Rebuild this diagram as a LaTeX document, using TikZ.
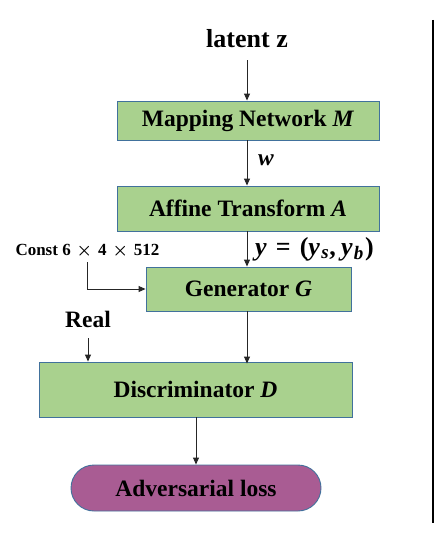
\documentclass[tikz,border=0pt]{standalone}
\usepackage{fontspec}
\setmainfont{Liberation Serif}
\usetikzlibrary{arrows.meta}
\definecolor{boxgreen}{HTML}{A9D18E}
\definecolor{boxblue}{HTML}{41719C}
\definecolor{losspurple}{HTML}{A95C93}
\begin{document}
\begin{tikzpicture}[x=1pt,y=-1pt,
  box/.style={draw=boxblue, line width=0.9pt, fill=boxgreen, inner sep=0pt,
    font=\fontsize{23.5}{26}\selectfont\bfseries},
  arr/.style={-{Triangle[length=7pt,width=6pt]}, line width=0.9pt, draw=black!85},
  lbl/.style={font=\fontsize{23.5}{26}\selectfont\bfseries, inner sep=0pt, text depth=0pt, anchor=base}]
\useasboundingbox (0,0) rectangle (435,535);
\node[lbl, font=\fontsize{26}{28}\selectfont\bfseries] (latent) at (247,48) {latent z};
\node[box, minimum width=262pt, minimum height=39pt] (map) at (248,120.5) {Mapping Network \textit{M}};
\node[box, minimum width=262pt, minimum height=45pt] (aff) at (248,208.5) {Affine Transform \textit{A}};
\node[box, minimum width=205pt, minimum height=44pt] (gen) at (248.5,289) {Generator \textit{G}};
\node[box, minimum width=313pt, minimum height=55pt] (dis) at (195.5,389.5) {Discriminator \textit{D}};
\node[box, draw=boxblue, fill=losspurple, minimum width=250pt, minimum height=46pt, rounded corners=23pt] (adv) at (196,488) {Adversarial loss};
\node[lbl, anchor=base west] (w) at (258,165) {\textit{w}};
\node[lbl, anchor=base west, font=\fontsize{26}{28}\selectfont\bfseries] (ylab) at (255,255) {\textit{y}\hspace{.35em}=\hspace{.35em}(\textit{y}\hspace{.05em}\textsubscript{\fontsize{19}{20}\selectfont\textit{s}},\hspace{.2em}\textit{y}\hspace{.05em}\textsubscript{\fontsize{19}{20}\selectfont\textit{b}}\hspace{.05em})};
\node[lbl, font=\fontsize{17}{19}\selectfont\bfseries] (const) at (87.5,255) {Const 6\hspace{.35em}{\boldmath$\times$}\hspace{.35em}4\hspace{.35em}{\boldmath$\times$}\hspace{.35em}512};
\node[lbl] (real) at (88,327) {Real};
\draw[arr, shorten <=12pt] (latent.south) -- (latent.south |- map.north);
\draw[arr] (map.south -| latent.south) -- (latent.south |- aff.north);
\draw[arr] (aff.south -| latent.south) -- (latent.south |- gen.north);
\draw[arr] (gen.south -| latent.south) -- ([yshift=-2pt]latent.south |- dis.north);
\draw[arr] (dis.south -| adv.north) -- (adv.north);
\draw[arr, shorten <=7pt] (const.south) |- (gen.west);
\draw[arr, shorten <=11pt] (real.south) -- (real.south |- dis.north);
\draw[line width=1.3pt] (433,20) coordinate (vtop) -- (433,523) coordinate (vbot);
\end{tikzpicture}
\end{document}
